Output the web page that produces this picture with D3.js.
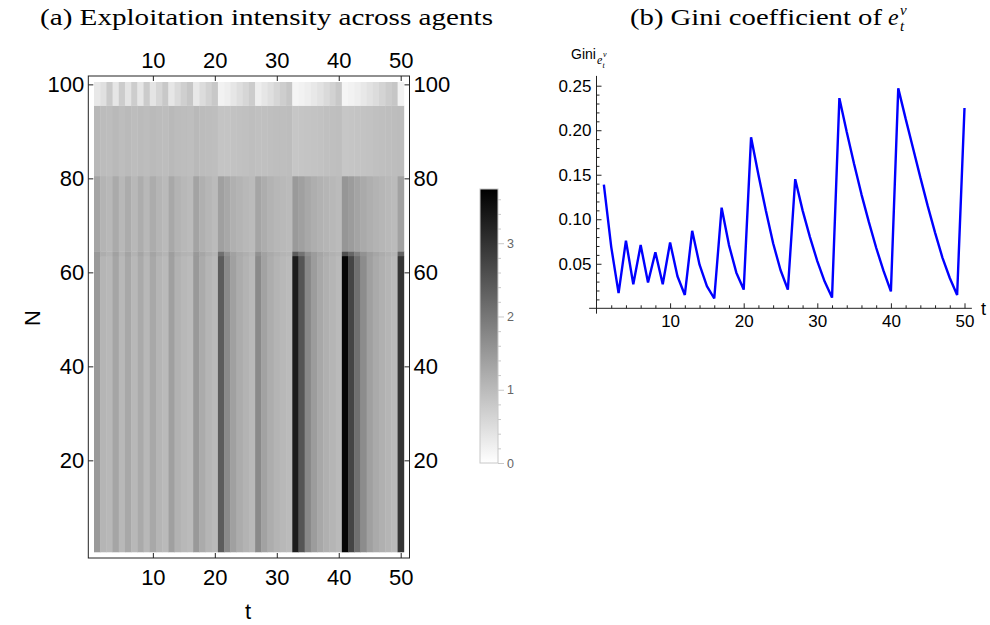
<!DOCTYPE html>
<html>
<head>
    <meta charset="utf-8">
    <title>exploitation</title>
    <script src="https://d3js.org/d3.v7.min.js"></script>
    <style>
        body { margin: 0; background: #fff; }
        text { font-family: "Liberation Sans", Arial, sans-serif; }
        .serif { font-family: "Liberation Serif", "Times New Roman", serif; }
    </style>
</head>
<body>
<svg width="990" height="625" id="mainsvg"></svg>
<script>
    // time steps t
    const periods = [1, 2, 3, 4, 5, 6, 7, 8, 9, 10, 11, 12, 13, 14, 15, 16, 17, 18, 19, 20,
        21, 22, 23, 24, 25, 26, 27, 28, 29, 30, 31, 32, 33, 34, 35, 36, 37, 38, 39, 40,
        41, 42, 43, 44, 45, 46, 47, 48, 49, 50];

    // agent bands (first / last agent index of each band)
    const bandFrom = [1, 64, 65, 81, 96];
    const bandTo = [63, 64, 80, 95, 100];

    // exploitation intensity per band and t
    const expLow = [1.48, 1.09, 1.04, 1.32, 1.04, 1.28, 1.04, 1.25, 1.04, 1.28,
        1.09, 1.01, 1.39, 1.13, 1.04, 1.00, 1.50, 1.23, 1.09, 1.01,
        2.39, 1.72, 1.39, 1.22, 1.12, 1.03, 1.72, 1.36, 1.20, 1.10,
        1.04, 1.00, 3.33, 2.49, 1.75, 1.45, 1.28, 1.16, 1.09, 1.01,
        3.67, 2.73, 2.10, 1.69, 1.39, 1.25, 1.16, 1.09, 1.01, 2.96];
    const expRow64 = [1.50, 1.20, 1.12, 1.38, 1.12, 1.34, 1.12, 1.32, 1.12, 1.34,
        1.18, 1.08, 1.42, 1.20, 1.12, 1.08, 1.50, 1.30, 1.17, 1.08,
        2.10, 1.62, 1.38, 1.25, 1.17, 1.09, 1.62, 1.36, 1.24, 1.16,
        1.10, 1.07, 2.40, 2.05, 1.65, 1.45, 1.32, 1.22, 1.15, 1.08,
        2.60, 2.25, 1.85, 1.60, 1.42, 1.30, 1.22, 1.15, 1.08, 2.30];
    const expMid = [1.32, 1.10, 1.04, 1.25, 1.04, 1.22, 1.04, 1.20, 1.04, 1.22,
        1.09, 1.01, 1.28, 1.11, 1.04, 1.00, 1.35, 1.16, 1.07, 1.00,
        1.39, 1.28, 1.16, 1.10, 1.04, 1.00, 1.32, 1.20, 1.11, 1.06,
        1.03, 1.00, 1.48, 1.39, 1.28, 1.19, 1.13, 1.09, 1.04, 1.00,
        1.54, 1.45, 1.33, 1.25, 1.17, 1.11, 1.07, 1.03, 1.00, 1.36];
    const expHigh = [1.04, 0.98, 0.97, 1.02, 0.97, 1.01, 0.97, 1.00, 0.97, 1.01,
        0.98, 0.97, 1.02, 0.98, 0.97, 0.96, 1.02, 0.99, 0.97, 0.96,
        0.86, 0.87, 0.89, 0.91, 0.93, 0.95, 0.92, 0.93, 0.94, 0.95,
        0.96, 0.97, 0.84, 0.85, 0.86, 0.88, 0.90, 0.92, 0.94, 0.96,
        0.84, 0.85, 0.86, 0.88, 0.90, 0.92, 0.94, 0.95, 0.97, 0.98];
    const expTop = [0.34, 0.45, 0.78, 0.37, 0.75, 0.40, 0.73, 0.37, 0.76, 0.40,
        0.60, 0.81, 0.37, 0.54, 0.70, 0.84, 0.34, 0.51, 0.66, 0.81,
        0.19, 0.25, 0.37, 0.48, 0.60, 0.75, 0.25, 0.37, 0.47, 0.60,
        0.72, 0.84, 0.15, 0.19, 0.25, 0.34, 0.43, 0.54, 0.66, 0.81,
        0.15, 0.19, 0.25, 0.34, 0.43, 0.51, 0.63, 0.75, 0.84, 0.19];

    // Gini coefficient of e_t
    const gini = [0.139, 0.069, 0.017, 0.076, 0.027, 0.071, 0.029, 0.063, 0.027, 0.074,
        0.036, 0.015, 0.087, 0.049, 0.025, 0.011, 0.113, 0.071, 0.040, 0.021,
        0.192, 0.150, 0.110, 0.073, 0.043, 0.021, 0.145, 0.110, 0.080, 0.053,
        0.030, 0.012, 0.236, 0.198, 0.162, 0.128, 0.097, 0.068, 0.042, 0.019,
        0.247, 0.213, 0.180, 0.147, 0.115, 0.085, 0.057, 0.034, 0.015, 0.225];

    const heatXTicks = [10, 20, 30, 40, 50];
    const heatYTicks = [20, 40, 60, 80, 100];
    const barTicks = [0, 1, 2, 3];
    const barMinor = [0.2, 0.4, 0.6, 0.8, 1.2, 1.4, 1.6, 1.8, 2.2, 2.4, 2.6, 2.8, 3.2, 3.4, 3.6];
    const colorMax = 3.74;
    const giniXTicks = [10, 20, 30, 40, 50];
    const giniXMinor = [2, 4, 6, 8, 12, 14, 16, 18, 22, 24, 26, 28, 32, 34, 36, 38, 42, 44, 46, 48];
    const giniYTicks = [0.05, 0.10, 0.15, 0.20, 0.25];
    const giniYMinor = [0.01, 0.02, 0.03, 0.04, 0.06, 0.07, 0.08, 0.09, 0.11, 0.12, 0.13, 0.14,
        0.16, 0.17, 0.18, 0.19, 0.21, 0.22, 0.23, 0.24];

    const svg = d3.select('#mainsvg');

    const styleAxis = (sel, size, lineColor, textColor) => {
        sel.select('.domain').remove();
        sel.attr('font-family', null).attr('font-size', size);
        sel.selectAll('line').attr('stroke', lineColor);
        sel.selectAll('text').attr('fill', textColor || '#000');
    };

    // ---------------- (a) heat map ----------------
    const hx = d3.scaleLinear().domain([-0.42, 51.42]).range([88.3, 409.5]);
    const hy = d3.scaleLinear().domain([-0.78, 101.78]).range([558, 76]);
    const gray = d3.scaleLinear().domain([0, colorMax]).range(['#ffffff', '#000000']);

    const bands = [expLow, expRow64, expMid, expHigh, expTop];
    const cells = svg.append('g').attr('id', 'cells');
    bands.forEach((vals, b) => {
        cells.selectAll(null).data(vals).enter().append('rect')
            .attr('x', (d, i) => hx(periods[i] - 0.5))
            .attr('width', (d, i) => hx(periods[i] + 0.5) - hx(periods[i] - 0.5) + 0.4)
            .attr('y', hy(bandTo[b] + 0.5))
            .attr('height', hy(bandFrom[b] - 0.5) - hy(bandTo[b] + 0.5) + 0.3)
            .attr('fill', d => gray(d));
    });

    svg.append('rect')
        .attr('x', hx.range()[0]).attr('y', hy.range()[1])
        .attr('width', hx.range()[1] - hx.range()[0])
        .attr('height', hy.range()[0] - hy.range()[1])
        .attr('fill', 'none').attr('stroke', '#222').attr('stroke-width', 1);

    svg.append('g').attr('transform', `translate(0,${hy.range()[0]})`)
        .call(d3.axisBottom(hx).tickValues(heatXTicks).tickSizeInner(-5).tickSizeOuter(0).tickPadding(11))
        .call(g => styleAxis(g, 22, '#222'));
    svg.append('g').attr('transform', `translate(0,${hy.range()[1]})`)
        .call(d3.axisTop(hx).tickValues(heatXTicks).tickSizeInner(-5).tickSizeOuter(0).tickPadding(8))
        .call(g => styleAxis(g, 22, '#222'));
    svg.append('g').attr('transform', `translate(${hx.range()[0]},0)`)
        .call(d3.axisLeft(hy).tickValues(heatYTicks).tickSizeInner(-5).tickSizeOuter(0).tickPadding(4))
        .call(g => styleAxis(g, 22, '#222'));
    svg.append('g').attr('transform', `translate(${hx.range()[1]},0)`)
        .call(d3.axisRight(hy).tickValues(heatYTicks).tickSizeInner(-5).tickSizeOuter(0).tickPadding(4))
        .call(g => styleAxis(g, 22, '#222'));

    svg.append('text').attr('x', 248).attr('y', 619)
        .attr('text-anchor', 'middle').attr('font-size', 22).text('t');
    svg.append('text').attr('transform', 'translate(40,318) rotate(-90)')
        .attr('text-anchor', 'middle').attr('font-size', 22).text('N');

    svg.append('text').attr('class', 'serif')
        .attr('x', 40).attr('y', 25).attr('font-size', 24)
        .attr('textLength', 453).attr('lengthAdjust', 'spacingAndGlyphs')
        .text('(a) Exploitation intensity across agents');

    // colour bar
    const cy = d3.scaleLinear().domain([0, colorMax]).range([463, 189]);
    const grad = svg.append('defs').append('linearGradient')
        .attr('id', 'barGrad').attr('x1', 0).attr('y1', 1).attr('x2', 0).attr('y2', 0);
    grad.append('stop').attr('offset', '0%').attr('stop-color', gray(0));
    grad.append('stop').attr('offset', '100%').attr('stop-color', gray(colorMax));
    svg.append('rect')
        .attr('x', 480).attr('y', cy(colorMax))
        .attr('width', 18).attr('height', cy(0) - cy(colorMax))
        .attr('fill', 'url(#barGrad)').attr('stroke', '#c8c8c8').attr('stroke-width', 1);
    svg.append('g').attr('transform', 'translate(498,0)')
        .call(d3.axisRight(cy).tickValues(barMinor).tickSize(3).tickFormat(''))
        .call(g => styleAxis(g, 12, '#c8c8c8'));
    svg.append('g').attr('transform', 'translate(498,0)')
        .call(d3.axisRight(cy).tickValues(barTicks).tickSize(6).tickPadding(3).tickFormat(d3.format('d')))
        .call(g => styleAxis(g, 12.5, '#c8c8c8', '#666'));

    // ---------------- (b) Gini line ----------------
    const gx = d3.scaleLinear().domain([0, 50]).range([596.5, 964.5]);
    const gy = d3.scaleLinear().domain([0, 0.25]).range([308.3, 85.7]);

    svg.append('line')
        .attr('x1', gx(-1)).attr('x2', gx(51))
        .attr('y1', gy(0)).attr('y2', gy(0))
        .attr('stroke', '#222');
    svg.append('line')
        .attr('x1', gx(0)).attr('x2', gx(0))
        .attr('y1', gy(-0.006)).attr('y2', gy(0.261))
        .attr('stroke', '#222');

    svg.append('g').attr('transform', `translate(0,${gy(0)})`)
        .call(d3.axisBottom(gx).tickValues(giniXMinor).tickSizeInner(-3).tickSizeOuter(0).tickFormat(''))
        .call(g => styleAxis(g, 17, '#222'));
    svg.append('g').attr('transform', `translate(0,${gy(0)})`)
        .call(d3.axisBottom(gx).tickValues(giniXTicks).tickSizeInner(-5).tickSizeOuter(0).tickPadding(7))
        .call(g => styleAxis(g, 17, '#222'));
    svg.append('g').attr('transform', `translate(${gx(0)},0)`)
        .call(d3.axisLeft(gy).tickValues(giniYMinor).tickSizeInner(-3).tickSizeOuter(0).tickFormat(''))
        .call(g => styleAxis(g, 17, '#222'));
    svg.append('g').attr('transform', `translate(${gx(0)},0)`)
        .call(d3.axisLeft(gy).tickValues(giniYTicks).tickSizeInner(-5).tickSizeOuter(0)
            .tickPadding(5).tickFormat(d3.format('.2f')))
        .call(g => styleAxis(g, 17, '#222'));

    const line = d3.line()
        .x((d, i) => gx(periods[i]))
        .y(d => gy(d));
    svg.append('path')
        .datum(gini)
        .attr('fill', 'none')
        .attr('stroke', '#0000ff')
        .attr('stroke-width', 2.4)
        .attr('stroke-linejoin', 'bevel')
        .attr('d', line);

    svg.append('text').attr('x', 981).attr('y', 315).attr('font-size', 18).text('t');

    // axis label Gini_{e_t^nu}
    const giniLab = svg.append('text').attr('x', 571).attr('y', 59).attr('font-size', 14).text('Gini');
    const subX = 571 + giniLab.node().getComputedTextLength() + 1;
    svg.append('text').attr('class', 'serif').attr('x', subX).attr('y', 64)
        .attr('font-size', 12).attr('font-style', 'italic').text('e');
    svg.append('text').attr('class', 'serif').attr('x', subX + 6).attr('y', 57)
        .attr('font-size', 8).attr('font-style', 'italic').text('ν');
    svg.append('text').attr('class', 'serif').attr('x', subX + 5.5).attr('y', 68)
        .attr('font-size', 8).attr('font-style', 'italic').text('t');

    // title (b)
    svg.append('text').attr('class', 'serif')
        .attr('x', 630).attr('y', 25).attr('font-size', 24)
        .attr('textLength', 252).attr('lengthAdjust', 'spacingAndGlyphs')
        .text('(b) Gini coefficient of');
    svg.append('text').attr('class', 'serif')
        .attr('x', 888).attr('y', 25).attr('font-size', 24).attr('font-style', 'italic').text('e');
    svg.append('text').attr('class', 'serif')
        .attr('x', 900).attr('y', 15).attr('font-size', 15).attr('font-style', 'italic').text('ν');
    svg.append('text').attr('class', 'serif')
        .attr('x', 900).attr('y', 31).attr('font-size', 15).attr('font-style', 'italic').text('t');
</script>
</body>
</html>
